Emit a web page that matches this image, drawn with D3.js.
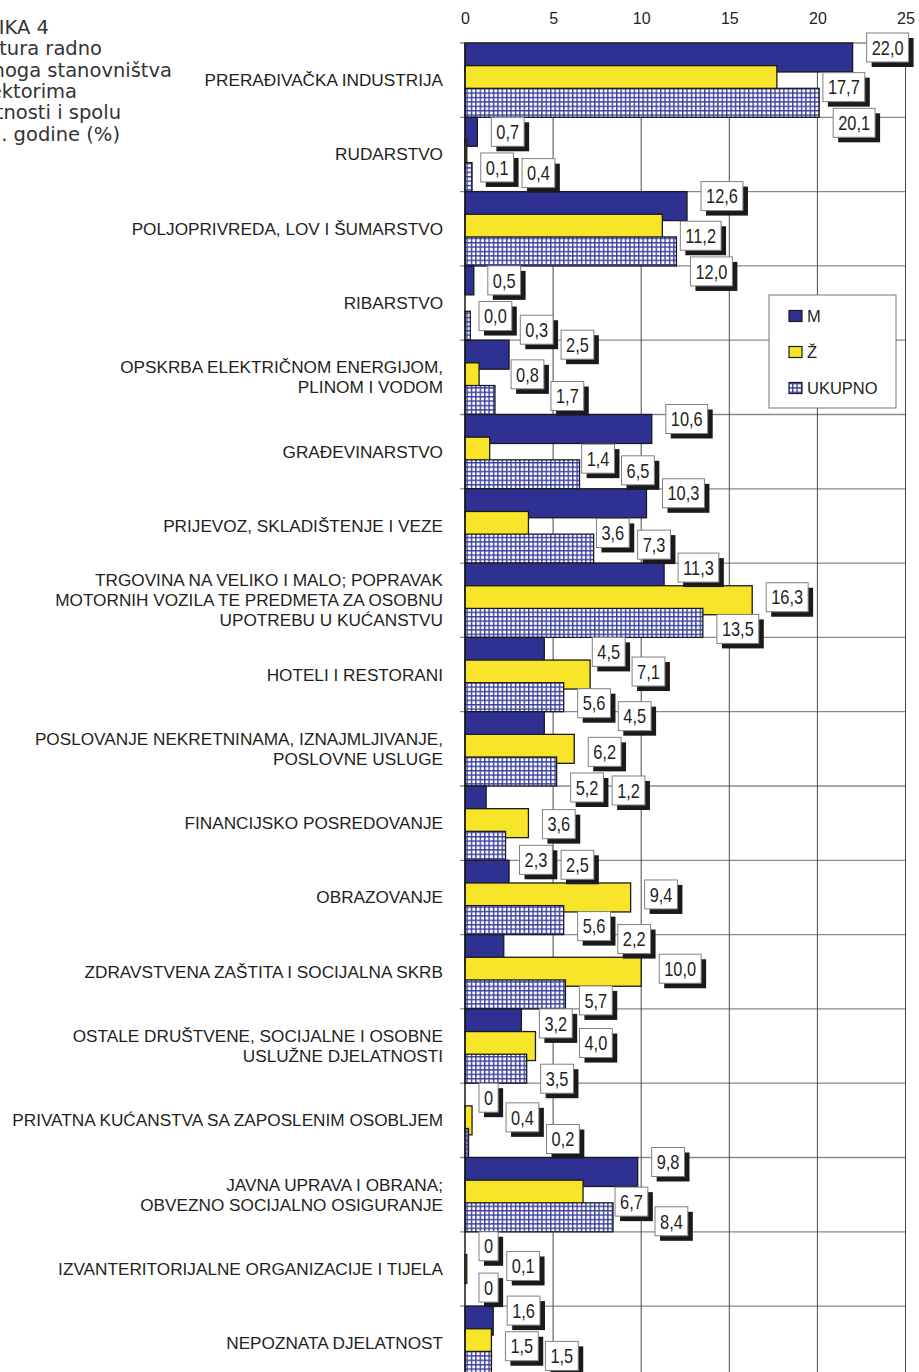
<!DOCTYPE html>
<html lang="hr">
<head>
<meta charset="utf-8">
<title>Slika 4</title>
<script src="https://cdnjs.cloudflare.com/ajax/libs/d3/7.8.5/d3.min.js"></script>
<style>
  body { margin: 0; background: #fff; }
  svg { display: block; }
  .title { font-family: "DejaVu Sans", sans-serif; font-size: 19.5px; fill: #333; }
  .cat { font-family: "Liberation Sans", Arial, sans-serif; font-size: 17.2px; fill: #231f20; }
  .xaxis text { font-family: "Liberation Sans", Arial, sans-serif; font-size: 16px; fill: #231f20; }
  .lbl text, .legend text { font-family: "Liberation Sans", Arial, sans-serif; fill: #231f20; }
</style>
</head>
<body>
<script>

var w = 919;
var h = 1372;

// data (M, Ž, ukupno in %), null = shown as "0"
var categories = [
  "PRERAĐIVAČKA INDUSTRIJA",
  "RUDARSTVO",
  "POLJOPRIVREDA, LOV I ŠUMARSTVO",
  "RIBARSTVO",
  "OPSKRBA ELEKTRIČNOM ENERGIJOM,|PLINOM I VODOM",
  "GRAĐEVINARSTVO",
  "PRIJEVOZ, SKLADIŠTENJE I VEZE",
  "TRGOVINA NA VELIKO I MALO; POPRAVAK|MOTORNIH VOZILA TE PREDMETA ZA OSOBNU|UPOTREBU U KUĆANSTVU",
  "HOTELI I RESTORANI",
  "POSLOVANJE NEKRETNINAMA, IZNAJMLJIVANJE,|POSLOVNE USLUGE",
  "FINANCIJSKO POSREDOVANJE",
  "OBRAZOVANJE",
  "ZDRAVSTVENA ZAŠTITA I SOCIJALNA SKRB",
  "OSTALE DRUŠTVENE, SOCIJALNE I OSOBNE|USLUŽNE DJELATNOSTI",
  "PRIVATNA KUĆANSTVA SA ZAPOSLENIM OSOBLJEM",
  "JAVNA UPRAVA I OBRANA;|OBVEZNO SOCIJALNO OSIGURANJE",
  "IZVANTERITORIJALNE ORGANIZACIJE I TIJELA",
  "NEPOZNATA DJELATNOST"
];
var seriesNames = ["M", "Ž", "UKUPNO"];
var valuesM = [22.0, 0.7, 12.6, 0.5, 2.5, 10.6, 10.3, 11.3, 4.5, 4.5, 1.2, 2.5, 2.2, 3.2, null, 9.8, null, 1.6];
var valuesZ = [17.7, 0.1, 11.2, 0.0, 0.8, 1.4, 3.6, 16.3, 7.1, 6.2, 3.6, 9.4, 10.0, 4.0, 0.4, 6.7, 0.1, 1.5];
var valuesU = [20.1, 0.4, 12.0, 0.3, 1.7, 6.5, 7.3, 13.5, 5.6, 5.2, 2.3, 5.6, 5.7, 3.5, 0.2, 8.4, null, 1.5];
var xTicks = [0, 5, 10, 15, 20, 25];
var titleLines = ["SLIKA 4", "Struktura radno", "aktivnoga stanovništva", "po sektorima", "djelatnosti i spolu", "2001. godine (%)"];

var seriesValues = [valuesM, valuesZ, valuesU];
var colors = ["#2e3192", "#f8e52a", "url(#grid)"];

var svg = d3.select("body").append("svg").attr("width", w).attr("height", h);

// checkered fill for UKUPNO
var pat = svg.append("defs").append("pattern")
  .attr("id", "grid").attr("patternUnits", "userSpaceOnUse")
  .attr("width", 4.4).attr("height", 4.4);
pat.append("rect").attr("width", 4.4).attr("height", 4.4).attr("fill", "#fff");
pat.append("rect").attr("width", 1.4).attr("height", 4.4).attr("fill", "#3a3f9e");
pat.append("rect").attr("width", 4.4).attr("height", 1.4).attr("fill", "#3a3f9e");

//Scales
var xScale = d3.scaleLinear().domain([0, 25]).range([465, 905.5]);
var yScale = d3.scaleBand().domain(d3.range(categories.length)).range([43, 43 + categories.length * 74.3]);
var barH = yScale.bandwidth() * 0.39;
var sub = d3.scalePoint().domain(d3.range(3)).range([0, yScale.bandwidth() - barH]);

// title (runs off the left edge like in the source)
var titleRight = [49, 102, 172, 77, 121, 120];
svg.append("g").selectAll("text").data(titleLines).enter().append("text")
  .attr("class", "title")
  .attr("text-anchor", "end")
  .attr("x", function(d, i) { return titleRight[i]; })
  .attr("y", function(d, i) { return 34 + i * 21.3; })
  .text(function(d) { return d; });

//Gridlines
var bounds = d3.range(categories.length).map(function(i) { return yScale(i); });
bounds.push(yScale.range()[1]);
svg.append("g").selectAll("line").data(bounds).enter().append("line")
  .attr("x1", xScale(0) - 5).attr("x2", xScale(25))
  .attr("y1", function(d) { return d; }).attr("y2", function(d) { return d; })
  .attr("stroke", "#8a8a8a").attr("stroke-width", 1.3);
svg.append("g").selectAll("line").data(xTicks.slice(1)).enter().append("line")
  .attr("x1", function(d) { return xScale(d); }).attr("x2", function(d) { return xScale(d); })
  .attr("y1", 43).attr("y2", h)
  .attr("stroke", "#4a4a4a").attr("stroke-width", 1);

var xAxis = d3.axisTop(xScale).tickValues(xTicks).tickSize(0).tickPadding(19).tickFormat(d3.format("d"));
var ax = svg.append("g").attr("class", "xaxis").attr("transform", "translate(0,43)").call(xAxis);
ax.select(".domain").remove();

// category labels
svg.append("g").selectAll("text").data(categories).enter().append("text")
  .attr("class", "cat")
  .attr("text-anchor", "end")
  .each(function(d, i) {
    var lines = d.split("|");
    var cy = yScale(i) + yScale.bandwidth() / 2;
    d3.select(this).selectAll("tspan").data(lines).enter().append("tspan")
      .attr("x", 443)
      .attr("y", function(l, k) { return cy - (lines.length - 1) * 10 + 6 + k * 20; })
      .text(function(l) { return l; });
  });

//Bars
var bars = [];
categories.forEach(function(c, i) {
  seriesValues.forEach(function(vals, s) { bars.push({i: i, s: s, v: vals[i]}); });
});

svg.append("g").selectAll("rect").data(bars.filter(function(d) { return d.v; })).enter().append("rect")
  .attr("x", xScale(0))
  .attr("y", function(d) { return yScale(d.i) + sub(d.s); })
  .attr("width", function(d) { return xScale(d.v) - xScale(0); })
  .attr("height", barH)
  .attr("fill", function(d) { return colors[d.s]; })
  .attr("stroke", "#1a1a1a").attr("stroke-width", 1.3);

// axis line
svg.append("line").attr("x1", xScale(0)).attr("x2", xScale(0)).attr("y1", 43).attr("y2", h)
  .attr("stroke", "#1a1a1a").attr("stroke-width", 1.5);

//Legend
var legend = svg.append("g").attr("class", "legend");
legend.append("rect").attr("x", 769).attr("y", 295).attr("width", 127).attr("height", 113)
  .attr("fill", "#fff").attr("stroke", "#777");
seriesNames.forEach(function(n, s) {
  var cy = 316 + s * 36;
  legend.append("rect").attr("x", 789).attr("y", cy - 5.5).attr("width", 13).attr("height", 11)
    .attr("fill", colors[s]).attr("stroke", "#1a1a1a").attr("stroke-width", 1.2);
  legend.append("text").attr("x", 807).attr("y", cy + 6).attr("font-size", 16.5).text(n);
});

// data labels: white boxes with a black drop shadow, placed right of the bar end
// (simple search: nearest free spot to a preferred offset, avoiding bars, legend and earlier labels)
var fmt = function(v) { return v == null ? "0" : d3.format(".1f")(v).replace(".", ","); };
var lh = 29, sx = 0.82, sh = 5, fs = 20;
var prefDy = [-10, -3, 4];

var obstacles = bars.filter(function(d) { return d.v; }).map(function(d) {
  var y0 = yScale(d.i) + sub(d.s);
  return {x0: xScale(0), x1: xScale(d.v) + 1, y0: y0 + 2, y1: y0 + barH - 2};
});
obstacles.push({x0: 767, x1: 898, y0: 293, y1: 410});

function hit(b) {
  return obstacles.some(function(o) {
    return b.x0 < o.x1 && b.x1 > o.x0 && b.y0 < o.y1 && b.y1 > o.y0;
  });
}

function place(d, cy, x0, range) {
  var best = null;
  for (var dy = prefDy[d.s] - range; dy <= prefDy[d.s] + range; dy += 2) {
    var by = cy + dy - lh / 2;
    if (by + lh > h - 1) continue;
    for (var dx = 0; dx <= 330; dx += 2) {
      var cost = dx + 2 * Math.abs(dy - prefDy[d.s]);
      if (best && cost >= best.cost) break;
      var bx = x0 + dx;
      if (bx + d.w + sh > 919) break;
      var box = {x0: bx - 1, x1: bx + d.w + sh + 1, y0: by - 1, y1: by + lh + sh};
      if (!hit(box)) { best = {cost: cost, x: bx, y: by, box: box}; break; }
    }
  }
  return best;
}

var measure = svg.append("text").attr("font-size", fs).attr("font-family", "Liberation Sans, Arial, sans-serif");
bars.forEach(function(d) {
  d.t = fmt(d.v);
  d.w = measure.text(d.t).node().getComputedTextLength() * sx + 10;
  var cy = yScale(d.i) + sub(d.s) + barH / 2;
  var x0 = xScale(d.v || 0) + 14;
  var best = place(d, cy, x0, 18) || place(d, cy, x0, 40);
  if (!best) best = {x: x0, y: cy - lh / 2, box: {x0: x0, x1: x0 + d.w, y0: cy - lh / 2, y1: cy + lh / 2}};
  d.lx = best.x; d.ly = best.y;
  obstacles.push(best.box);
});
measure.remove();

var lbl = svg.append("g").selectAll("g").data(bars).enter().append("g")
  .attr("class", "lbl")
  .attr("transform", function(d) { return "translate(" + d.lx + "," + d.ly + ")"; });
lbl.append("rect").attr("x", sh).attr("y", sh).attr("width", function(d) { return d.w; }).attr("height", lh)
  .attr("fill", "#1a1a1a");
lbl.append("rect").attr("width", function(d) { return d.w; }).attr("height", lh)
  .attr("fill", "#fff").attr("stroke", "#808080").attr("stroke-width", 1);
lbl.append("g").attr("transform", function(d) { return "translate(" + d.w / 2 + "," + (lh / 2 + 7.2) + ") scale(" + sx + ",1)"; })
  .append("text").attr("text-anchor", "middle").attr("font-size", fs)
  .text(function(d) { return d.t; });

</script>
</body>
</html>
